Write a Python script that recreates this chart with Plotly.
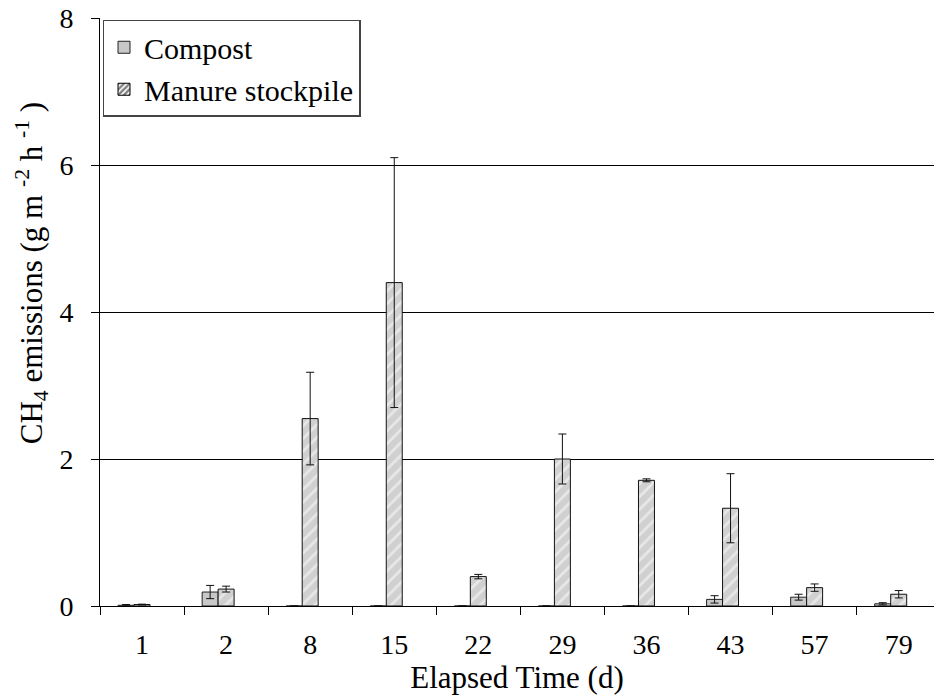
import plotly.graph_objects as go

days = ["1", "2", "8", "15", "22", "29", "36", "43", "57", "79"]
compost = [0.01, 0.19, 0.0, 0.0, 0.0, 0.0, 0.0, 0.09, 0.12, 0.03]
compost_err = [0.01, 0.09, 0.0, 0.0, 0.0, 0.0, 0.0, 0.05, 0.04, 0.015]
manure = [0.02, 0.23, 2.55, 4.40, 0.40, 2.00, 1.71, 1.33, 0.25, 0.16]
manure_err = [0.005, 0.04, 0.63, 1.70, 0.03, 0.34, 0.02, 0.47, 0.05, 0.05]

font = "Times New Roman, Liberation Serif, serif"

fig = go.Figure()
fig.add_trace(go.Bar(
    x=days, y=compost, name="Compost", legendgroup="a",
    marker=dict(color="#c8c8c8", line=dict(color="#222222", width=1)),
    error_y=dict(type="data", array=compost_err, color="#111111", thickness=1, width=4),
))
fig.add_trace(go.Bar(
    x=days, y=manure, name="Manure stockpile", showlegend=False, legendgroup="b",
    marker=dict(color="#d0d0d0", line=dict(color="#111111", width=1),
                pattern=dict(shape="/", fgcolor="white", bgcolor="#d0d0d0",
                             size=9, solidity=0.3)),
    error_y=dict(type="data", array=manure_err, color="#111111", thickness=1, width=4),
))
# legend entry for the hatched series (black/white swatch as in the original)
fig.add_trace(go.Bar(
    x=[None], y=[None], name="Manure stockpile", legendgroup="b",
    marker=dict(color="white", line=dict(color="black", width=1),
                pattern=dict(shape="/", fgcolor="black", bgcolor="white",
                             size=5, solidity=0.6)),
))

fig.update_layout(
    width=934, height=698,
    margin=dict(l=100, r=0, t=18, b=92),
    paper_bgcolor="white", plot_bgcolor="white",
    barmode="group", bargap=0.43, bargroupgap=0,
    font=dict(family=font, size=28, color="black"),
    showlegend=True,
    legend=dict(x=0.003, y=0.997, xanchor="left", yanchor="top",
                bordercolor="#444444", borderwidth=1.5, bgcolor="white",
                font=dict(family=font, size=30, color="black"),
                tracegroupgap=0, itemwidth=30),
    annotations=[dict(
        text="CH<sub>4</sub> emissions (g m <sup>-2</sup> h <sup>-1</sup> )",
        xref="paper", yref="paper", x=-0.0815, y=0.566,
        xanchor="center", yanchor="middle", textangle=-90, showarrow=False,
        font=dict(family=font, size=31, color="black"),
    )],
)
fig.update_xaxes(
    type="category", range=[-0.5, 9.42],
    showline=True, linecolor="black", linewidth=1,
    ticks="outside", ticklen=8, tickcolor="black", tickson="boundaries",
    tickfont=dict(family=font, size=28),
    ticklabelstandoff=13,
    title=dict(text="Elapsed Time (d)", font=dict(family=font, size=31), standoff=0),
    showgrid=False,
)
fig.update_yaxes(
    range=[0, 8], tickvals=[0, 2, 4, 6, 8],
    showline=True, linecolor="black", linewidth=1,
    ticks="outside", ticklen=8, tickcolor="black",
    ticklabelstandoff=12,
    showgrid=True, gridcolor="black", gridwidth=1,
    zeroline=False,
    tickfont=dict(family=font, size=28),
)

fig.write_html("out.html")
